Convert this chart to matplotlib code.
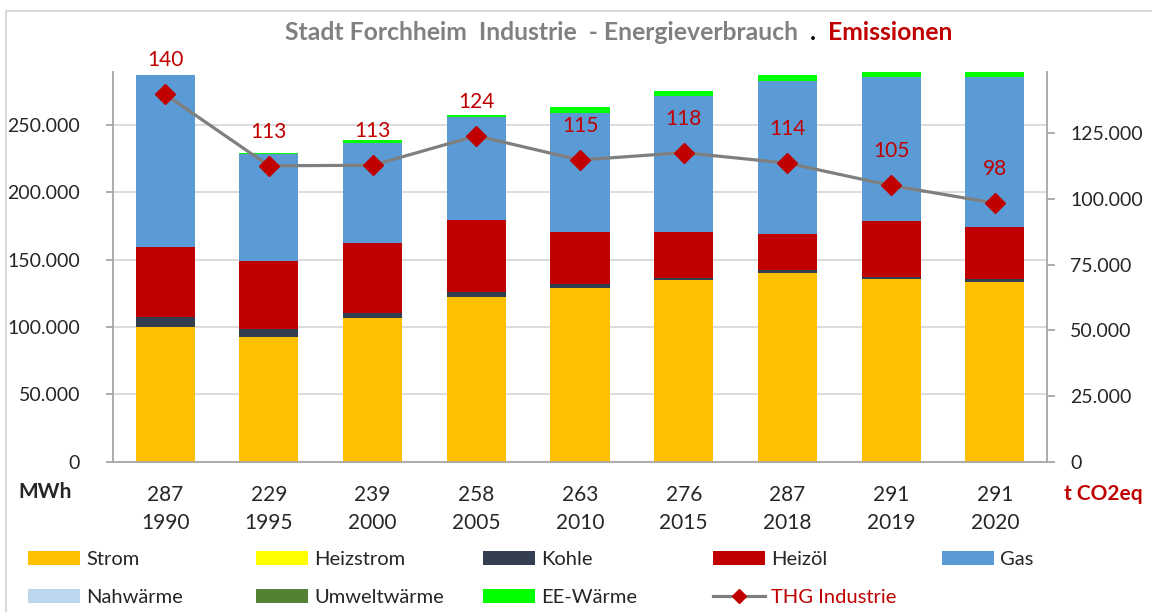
import numpy as np
import matplotlib
matplotlib.use('Agg')
import matplotlib.pyplot as plt
from matplotlib.ticker import FuncFormatter, MultipleLocator
from matplotlib.patches import Patch, Rectangle
from matplotlib.lines import Line2D

plt.rcParams['font.family'] = ['Lato', 'DejaVu Sans']

# data (MWh / t CO2eq)
years = ['1990', '1995', '2000', '2005', '2010', '2015', '2018', '2019', '2020']
totals = ['287', '229', '239', '258', '263', '276', '287', '291', '291']
strom = [100200, 92600, 106900, 122000, 128700, 134900, 140300, 135700, 133700]
heizstrom = [0, 0, 0, 0, 0, 0, 0, 0, 0]
kohle = [7500, 5700, 3300, 3800, 3000, 1300, 2000, 1400, 1700]
heizoel = [51500, 50500, 52000, 53400, 39100, 34600, 26800, 41400, 39100]
gas = [127700, 80000, 74600, 76500, 88300, 101000, 113600, 107400, 111400]
nahwaerme = [0, 0, 0, 0, 0, 0, 0, 0, 0]
umweltwaerme = [0, 0, 0, 0, 0, 0, 0, 0, 0]
ee_waerme = [0, 700, 2100, 2000, 4000, 3700, 4200, 5100, 5100]
thg = [139800, 112600, 112800, 124000, 114800, 117600, 113600, 105100, 98400]

series = [
    ('Strom', strom, '#FFC000'),
    ('Heizstrom', heizstrom, '#FFFF00'),
    ('Kohle', kohle, '#333F50'),
    ('Heizöl', heizoel, '#C00000'),
    ('Gas', gas, '#5B9BD5'),
    ('Nahwärme', nahwaerme, '#BDD7EE'),
    ('Umweltwärme', umweltwaerme, '#548235'),
    ('EE-Wärme', ee_waerme, '#00FF00'),
]

W, H = 1152, 612
fig = plt.figure(figsize=(W / 100, H / 100), dpi=100)
ax = fig.add_axes([113.3 / W, 150.3 / H, 933.4 / W, 390 / H])
ax2 = ax.twinx()

x = np.arange(len(years))
bottom = np.zeros(len(years))
for name, vals, col in series:
    ax.bar(x, vals, 0.57, bottom=bottom, color=col, label=name, zorder=2)
    bottom += np.array(vals)

line_col = '#7F7F7F'
red = '#C00000'
ax2.plot(x, thg, color=line_col, lw=2.3, marker='D', ms=10, mfc=red, mec=red, zorder=3)
for xi, v in zip(x, thg):
    ax2.annotate(f"{v / 1000:.0f}", (xi, v), xytext=(0, 24.5), textcoords='offset points',
                 ha='center', va='center', color=red, fontsize=15)

de = FuncFormatter(lambda v, p: f"{int(round(v)):,}".replace(',', '.'))
ax.set_xlim(-0.5, len(years) - 0.5)
ax.set_ylim(0, 289600)
ax2.set_ylim(0, 148400)
ax.yaxis.set_major_locator(MultipleLocator(50000))
ax2.yaxis.set_major_locator(MultipleLocator(25000))
ax.yaxis.set_major_formatter(de)
ax2.yaxis.set_major_formatter(de)

ax.grid(axis='y', color='#D9D9D9', lw=1.3, zorder=0)
ax.set_axisbelow(True)

spine_col = '#A6A6A6'
for a in (ax, ax2):
    for s in a.spines.values():
        s.set_color(spine_col)
        s.set_linewidth(1.3)
    a.spines['top'].set_visible(False)
ax.spines['right'].set_visible(False)
ax2.spines['left'].set_visible(False)
ax2.spines['bottom'].set_visible(False)

ax.set_xticks(x)
ax.set_xticklabels([f"{t}\n{y}" for t, y in zip(totals, years)], linespacing=1.45)
ax.tick_params(axis='x', length=0, pad=17, labelsize=15, labelcolor='#262626')
ax.tick_params(axis='y', length=5, width=1.3, color=spine_col, pad=19, labelsize=14, labelcolor='#262626')
ax2.tick_params(axis='y', length=6, width=1.3, color=spine_col, pad=11, labelsize=14, labelcolor='#262626')

fig.text(45 / W, 1 - 492 / H, 'MWh', ha='center', va='center', fontsize=15, fontweight='bold', color='#262626')
fig.text(1103 / W, 1 - 494 / H, 't CO2eq', ha='center', va='center', fontsize=15, fontweight='bold', color=red)

# title in three colours
fig.canvas.draw()
r = fig.canvas.get_renderer()
ty = 1 - 33 / H
tsize = 17.8
t1 = fig.text(285 / W, ty, 'Stadt Forchheim  Industrie  - Energieverbrauch  ', ha='left', va='center',
              fontsize=tsize, fontweight='bold', color='#808080')
bb = t1.get_window_extent(r)
t2 = fig.text(bb.x1 / W, ty, '.  ', ha='left', va='center', fontsize=tsize, fontweight='bold', color='black')
bb = t2.get_window_extent(r)
fig.text(bb.x1 / W, ty, 'Emissionen', ha='left', va='center', fontsize=tsize, fontweight='bold', color=red)

# legend, column by column
handles = {name: Patch(facecolor=col, edgecolor='none') for name, vals, col in series}
thg_handle = Line2D([], [], color=line_col, lw=2.3, marker='D', ms=7, mfc=red, mec=red)
columns = [
    (28, [('Strom', handles['Strom']), ('Nahwärme', handles['Nahwärme'])]),
    (256, [('Heizstrom', handles['Heizstrom']), ('Umweltwärme', handles['Umweltwärme'])]),
    (483, [('Kohle', handles['Kohle']), ('EE-Wärme', handles['EE-Wärme'])]),
    (713, [('Heizöl', handles['Heizöl']), ('THG Industrie', thg_handle)]),
    (942, [('Gas', handles['Gas'])]),
]
for x0, items in columns:
    leg = fig.legend([h for n, h in items], [n for n, h in items], loc='upper left',
                     bbox_to_anchor=(x0 / W, 1 - 551 / H), frameon=False, fontsize=14.5,
                     handlelength=2.6, handletextpad=0.3, labelspacing=1.05,
                     borderpad=0, borderaxespad=0)
    for txt in leg.get_texts():
        txt.set_color(red if txt.get_text() == 'THG Industrie' else '#262626')

fig.patches.append(Rectangle((6 / W, -0.05), 1.1, 1 - 11 / H + 0.05, transform=fig.transFigure,
                             fill=False, edgecolor='#D9D9D9', lw=1.5))

fig.savefig('out.png', dpi=100)
plt.close()
